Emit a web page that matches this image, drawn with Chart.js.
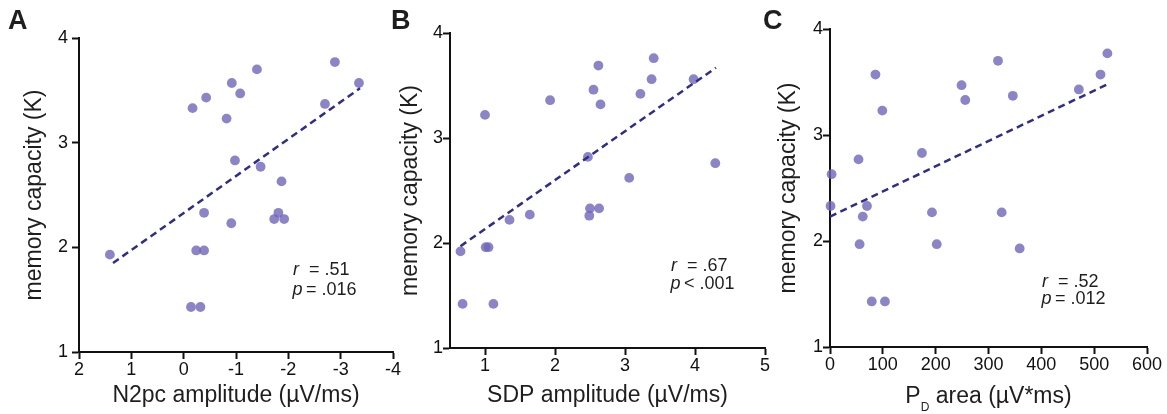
<!DOCTYPE html>
<html>
<head>
<meta charset="utf-8">
<title>memory capacity correlations</title>
<script src="https://cdn.jsdelivr.net/npm/chart.js@4.4.1/dist/chart.umd.min.js"></script>
<style>
    html, body { margin: 0; padding: 0; background: #fff; }
    #wrap { position: relative; width: 1167px; height: 414px; }
    #wrap canvas { position: absolute; left: 0; top: 0; }
</style>
</head>
<body>
<div id="wrap">
    <canvas id="chart-n2pc" width="1167" height="414"></canvas>
    <canvas id="chart-sdp" width="1167" height="414"></canvas>
    <canvas id="chart-pd" width="1167" height="414"></canvas>
</div>
<script>
//=====> DATA

// shared y axis: memory capacity (K)
const K_TICKS = [1, 2, 3, 4];

// A: N2pc amplitude
const N2PC_AMP = [1.41, -0.17, -0.43, -0.24, -0.39, -0.39, -0.14, -0.32, -0.92, -1.08, -0.82,
    -0.98, -0.91, -1.40, -1.47, -1.87, -1.81, -1.73, -1.92, -2.70, -2.89, -3.35];
const N2PC_K = [1.93, 3.33, 3.43, 1.97, 1.97, 2.33, 1.43, 1.43, 3.57, 3.47, 3.23,
    2.83, 2.23, 3.70, 2.77, 2.63, 2.33, 2.27, 2.27, 3.37, 3.77, 3.57];
const N2PC_FIT_X = [1.35, -3.37];
const N2PC_FIT_K = [1.85, 3.52];
const N2PC_TICKS = [-4, -3, -2, -1, 0, 1, 2];

// B: SDP amplitude
const SDP_AMP = [0.65, 0.68, 1.12, 1.01, 1.05, 1.00, 1.35, 1.64, 1.93, 2.47, 2.49,
    2.50, 2.63, 2.55, 2.62, 2.65, 3.06, 3.22, 3.38, 3.41, 3.98, 4.29];
const SDP_K = [1.92, 1.42, 1.42, 1.96, 1.96, 3.22, 2.22, 2.27, 3.36, 2.82, 2.26,
    2.33, 2.33, 3.46, 3.69, 3.32, 2.62, 3.42, 3.56, 3.76, 3.56, 2.76];
const SDP_FIT_X = [0.65, 4.30];
const SDP_FIT_K = [1.97, 3.67];
const SDP_TICKS = [1, 2, 3, 4, 5];

// C: PD area
const PD_AREA = [1, 3, 54, 56, 62, 70, 79, 104, 86, 99, 174,
    193, 202, 249, 256, 318, 325, 346, 359, 471, 512, 525];
const PD_K = [2.33, 2.63, 2.77, 1.97, 2.23, 2.33, 1.43, 1.43, 3.57, 3.23, 2.83,
    2.27, 1.97, 3.47, 3.33, 3.70, 2.27, 3.37, 1.93, 3.43, 3.57, 3.77];
const PD_FIT_X = [0, 530];
const PD_FIT_K = [2.23, 3.49];
const PD_TICKS = [0, 100, 200, 300, 400, 500, 600];

//=====> STYLE

const FONT = '"Liberation Sans", Arial, Helvetica, sans-serif';
const DOT_COLOR = 'rgba(110, 102, 185, 0.8)';
const FIT_COLOR = '#2e2d8d';
const AXIS_COLOR = '#111';
const TEXT_COLOR = '#1e1e1e';

function toPoints(xs, ys) {
    return xs.map(function(x, i) { return { x: x, y: ys[i] }; });
}

// panel letter, r / p stats and the subscripted axis title of panel C
const panelText = {
    id: 'panelText',
    afterDraw: function(chart, args, opts) {
        var ctx = chart.ctx;
        ctx.save();
        ctx.fillStyle = TEXT_COLOR;
        ctx.textAlign = 'left';
        ctx.textBaseline = 'alphabetic';

        ctx.font = 'bold 27px ' + FONT;
        ctx.fillText(opts.letter, opts.letterX, opts.letterY);

        ctx.font = 'italic 18px ' + FONT;
        ctx.fillText('r', opts.statX, opts.statY);
        ctx.fillText('p', opts.statX - 0.5, opts.statY + opts.statGap);
        ctx.font = '18px ' + FONT;
        ctx.fillText('= ' + opts.r, opts.statX + 16, opts.statY);
        ctx.fillText(opts.p, opts.statX + 13, opts.statY + opts.statGap);

        if (opts.subTitle) {
            var area = chart.chartArea;
            var big = '23px ' + FONT;
            var small = '12px ' + FONT;
            ctx.font = big;
            var wMain = ctx.measureText(opts.subTitle[0]).width;
            var wRest = ctx.measureText(opts.subTitle[2]).width;
            ctx.font = small;
            var wSub = ctx.measureText(opts.subTitle[1]).width;
            var x = (area.left + area.right) / 2 - (wMain + wSub + wRest) / 2;
            var y = opts.subTitleY;
            ctx.font = big;
            ctx.fillText(opts.subTitle[0], x, y);
            ctx.font = small;
            ctx.fillText(opts.subTitle[1], x + wMain, y + 8);
            ctx.font = big;
            ctx.fillText(opts.subTitle[2], x + wMain + wSub, y);
        }
        ctx.restore();
    }
};

function scatterPanel(canvasId, cfg) {
    return new Chart(document.getElementById(canvasId), {
        type: 'scatter',
        data: {
            datasets: [
                {
                    label: 'fit',
                    data: toPoints(cfg.fitX, cfg.fitY),
                    showLine: true,
                    borderColor: FIT_COLOR,
                    borderWidth: 2.5,
                    borderDash: [7, 4.5],
                    pointRadius: 0,
                    order: 0,
                    clip: false
                },
                {
                    label: 'subjects',
                    data: toPoints(cfg.xs, cfg.ys),
                    backgroundColor: DOT_COLOR,
                    borderWidth: 0,
                    pointRadius: 4.9,
                    order: 1,
                    clip: false
                }
            ]
        },
        options: {
            responsive: false,
            animation: false,
            events: [],
            layout: { padding: cfg.padding },
            plugins: {
                legend: { display: false },
                tooltip: { enabled: false },
                panelText: cfg.text
            },
            scales: {
                x: {
                    type: 'linear',
                    min: cfg.xMin,
                    max: cfg.xMax,
                    reverse: !!cfg.reverse,
                    afterFit: function(scale) { scale.height = cfg.xHeight; },
                    afterBuildTicks: function(scale) {
                        scale.ticks = cfg.xTicks.map(function(v) { return { value: v }; });
                    },
                    border: { display: true, color: AXIS_COLOR, width: 2 },
                    grid: { drawOnChartArea: false, drawTicks: true, tickLength: 7, tickWidth: 2, tickColor: AXIS_COLOR },
                    ticks: { autoSkip: false, maxRotation: 0, padding: 0, color: AXIS_COLOR, font: { family: FONT, size: 18 } },
                    title: {
                        display: !!cfg.xTitle,
                        text: cfg.xTitle || '',
                        color: TEXT_COLOR,
                        padding: 0,
                        font: { family: FONT, size: 23 }
                    }
                },
                y: {
                    type: 'linear',
                    min: 1,
                    max: 4,
                    afterFit: function(scale) { scale.width = cfg.yWidth; },
                    afterBuildTicks: function(scale) {
                        scale.ticks = K_TICKS.map(function(v) { return { value: v }; });
                    },
                    border: { display: true, color: AXIS_COLOR, width: 2 },
                    grid: { drawOnChartArea: false, drawTicks: true, tickLength: 7, tickWidth: 2, tickColor: AXIS_COLOR },
                    ticks: { padding: cfg.yPad, color: AXIS_COLOR, font: { family: FONT, size: 18 } },
                    title: {
                        display: true,
                        text: 'memory capacity (K)',
                        color: TEXT_COLOR,
                        padding: 0,
                        font: { family: FONT, size: 23 }
                    }
                }
            }
        },
        plugins: [panelText]
    });
}

//=====> CHARTS

scatterPanel('chart-n2pc', {
    xs: N2PC_AMP, ys: N2PC_K, fitX: N2PC_FIT_X, fitY: N2PC_FIT_K,
    xMin: -4, xMax: 2, reverse: true, xTicks: N2PC_TICKS,
    xTitle: 'N2pc amplitude (\u00b5V/ms)',
    padding: { left: 21, right: 774, top: 38, bottom: 5 },
    yWidth: 58, xHeight: 57, yPad: 4,
    text: { letter: 'A', letterX: 8, letterY: 29, statX: 293, statY: 275, statGap: 19.5, r: '.51', p: '= .016' }
});

scatterPanel('chart-sdp', {
    xs: SDP_AMP, ys: SDP_K, fitX: SDP_FIT_X, fitY: SDP_FIT_K,
    xMin: 0.5, xMax: 5, xTicks: SDP_TICKS,
    xTitle: 'SDP amplitude (\u00b5V/ms)',
    padding: { left: 397, right: 402, top: 33, bottom: 5 },
    yWidth: 53, xHeight: 61, yPad: 0,
    text: { letter: 'B', letterX: 391, letterY: 28.5, statX: 671, statY: 270.5, statGap: 18.8, r: '.67', p: '< .001' }
});

scatterPanel('chart-pd', {
    xs: PD_AREA, ys: PD_K, fitX: PD_FIT_X, fitY: PD_FIT_K,
    xMin: 0, xMax: 600, xTicks: PD_TICKS,
    padding: { left: 775, right: 20, top: 29, bottom: 5 },
    yWidth: 55, xHeight: 62, yPad: 0,
    text: {
        letter: 'C', letterX: 763, letterY: 29, statX: 1042, statY: 286.5, statGap: 17.5, r: '.52', p: '= .012',
        subTitle: ['P', 'D', ' area (\u00b5V*ms)'], subTitleY: 403
    }
});
</script>
</body>
</html>
